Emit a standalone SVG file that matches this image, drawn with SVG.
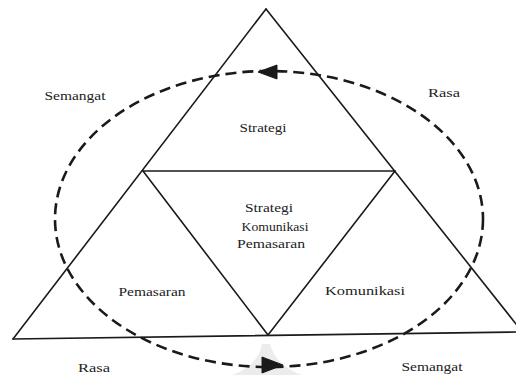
<svg xmlns="http://www.w3.org/2000/svg" width="516" height="375" viewBox="0 0 516 375">
<style>
.ln{fill:none;stroke:#1a1a1a;stroke-width:1.6;stroke-linecap:round}
.dash{fill:none;stroke:#1a1a1a;stroke-width:2.6;stroke-dasharray:11 6}
.t{font-family:'Liberation Serif','DejaVu Serif',serif;font-size:13px;fill:#222;text-anchor:middle}
.ar{fill:#1a1a1a;stroke:#1a1a1a;stroke-width:1}
</style>
<rect width="516" height="375" fill="#fff"/>
<path d="M262,344 Q258,366 232,375 L302,375 Q276,366 270,344 Z" fill="#ececec"/>
<g id="outer-triangle">
<line class="ln" x1="266" y1="9" x2="13" y2="339"/>
<line class="ln" x1="266" y1="9" x2="524" y2="334"/>
<line class="ln" x1="13" y1="339" x2="516" y2="332"/>
</g>
<g id="inner-triangle">
<line class="ln" x1="143" y1="171" x2="395" y2="171" stroke-width="2"/>
<line class="ln" x1="143" y1="171" x2="268" y2="335"/>
<line class="ln" x1="395" y1="171" x2="268" y2="335"/>
</g>
<g id="connectors">
<ellipse class="dash" cx="269" cy="219" rx="214" ry="148"/>
<polygon class="ar" points="258,72 277,65 277,79"/>
<polygon class="ar" points="283,365 262,357 262,373"/>
</g>
<g id="strategi"><text class="t" x="263" y="132" textLength="47" lengthAdjust="spacingAndGlyphs">Strategi</text></g>
<g id="center">
<text class="t" x="269" y="212" textLength="48" lengthAdjust="spacingAndGlyphs">Strategi</text>
<text class="t" x="275" y="231" textLength="67" lengthAdjust="spacingAndGlyphs">Komunikasi</text>
<text class="t" x="271" y="248" textLength="68" lengthAdjust="spacingAndGlyphs">Pemasaran</text>
</g>
<g id="pemasaran"><text class="t" x="152" y="296" textLength="67" lengthAdjust="spacingAndGlyphs">Pemasaran</text></g>
<g id="komunikasi"><text class="t" x="365" y="295" textLength="80" lengthAdjust="spacingAndGlyphs">Komunikasi</text></g>
<g id="semangat-top"><text class="t" x="75" y="100" textLength="61" lengthAdjust="spacingAndGlyphs">Semangat</text></g>
<g id="rasa-top"><text class="t" x="444" y="97" textLength="32" lengthAdjust="spacingAndGlyphs">Rasa</text></g>
<g id="rasa-bottom"><text class="t" x="94" y="372" textLength="32" lengthAdjust="spacingAndGlyphs">Rasa</text></g>
<g id="semangat-bottom"><text class="t" x="432" y="371" textLength="61" lengthAdjust="spacingAndGlyphs">Semangat</text></g>
</svg>
